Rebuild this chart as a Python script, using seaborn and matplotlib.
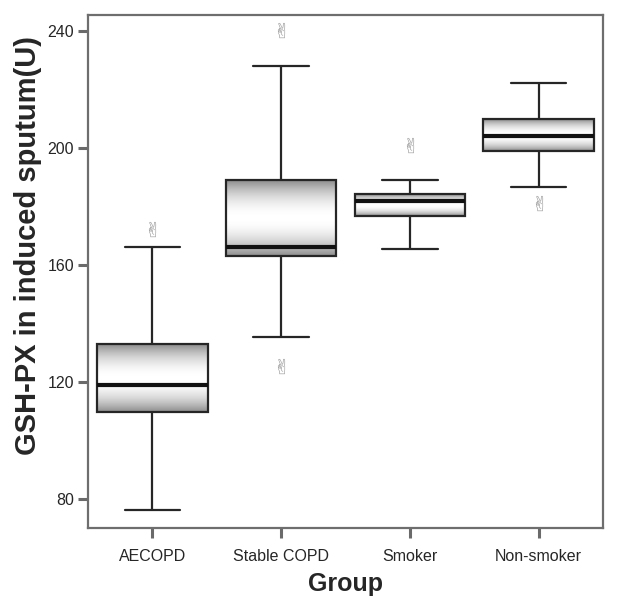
import numpy as np
import pandas as pd
import matplotlib
matplotlib.use("Agg")
import matplotlib.pyplot as plt
import seaborn as sns

# Box statistics
groups = ["AECOPD", "Stable COPD", "Smoker", "Non-smoker"]
whisker_low = [76.3, 135.1, 165.4, 186.6]
q1 = [109.6, 163.1, 176.7, 198.8]
medians = [118.8, 166.1, 181.8, 203.9]
q3 = [132.8, 188.9, 184.2, 209.7]
whisker_high = [166.1, 227.7, 188.9, 222.0]

# Outliers
outlier_groups = ["AECOPD", "Stable COPD", "Stable COPD", "Smoker", "Non-smoker"]
outlier_values = [172.3, 240.3, 125.3, 200.9, 181.1]

yticks = [80, 120, 160, 200, 240]

# Long table: five values per group give exact quartiles / whisker ends
rows = []
for i, g in enumerate(groups):
    for v in [whisker_low[i], q1[i], medians[i], q3[i], whisker_high[i]]:
        rows.append({"Group": g, "value": v})
df = pd.DataFrame(rows)

sns.set_style("white")
plt.rcParams["font.family"] = ["Liberation Sans", "DejaVu Sans"]

fig = plt.figure(figsize=(6.17, 6.02), dpi=100)
ax = fig.add_axes([0.1426, 0.1229, 0.8347, 0.8522])

sns.boxplot(data=df, x="Group", y="value", order=groups, whis=(0, 100),
            showfliers=False, width=0.86, color="white", linecolor="#262626",
            linewidth=1.6, medianprops=dict(linewidth=3.0, color="#111111"),
            ax=ax)

# Grey-white-grey vertical shading inside each box
t = np.linspace(0, 1, 200)
d = (t - 0.5) / 0.5
shade = 1 - 0.45 * d ** 2
grad = np.tile(shade[:, None], (1, 2))
for patch in list(ax.patches):
    ext = patch.get_path().get_extents()
    patch.set_facecolor("none")
    im = ax.imshow(grad, extent=[ext.x0, ext.x1, ext.y0, ext.y1], aspect="auto",
                   cmap="gray", vmin=0, vmax=1, origin="upper",
                   zorder=patch.get_zorder() - 0.1, interpolation="bilinear")
    im.set_clip_path(patch)

sns.stripplot(x=outlier_groups, y=outlier_values, order=groups, jitter=False,
              marker="$✌$", size=11, color="#999999", linewidth=0, ax=ax)

ax.set_xlim(-0.5, 3.5)
ax.set_ylim(70.0, 245.3)
ax.set_yticks(yticks)
ax.set_xlabel("Group", fontsize=18, fontweight="bold", labelpad=6)
ax.set_ylabel("GSH-PX in induced sputum(U)", fontsize=21, fontweight="bold")
ax.yaxis.set_label_coords(-0.09, 0.55)
ax.tick_params(axis="x", labelsize=11.5, length=7, width=2.2, color="#6a6a6a", pad=8)
ax.tick_params(axis="y", labelsize=11.5, length=7, width=2.2, color="#6a6a6a", pad=3)
ax.tick_params(left=True, bottom=True)
for s in ax.spines.values():
    s.set_visible(True)
    s.set_color("#6e6e6e")
    s.set_linewidth(1.6)

fig.savefig("out.png", dpi=100)
